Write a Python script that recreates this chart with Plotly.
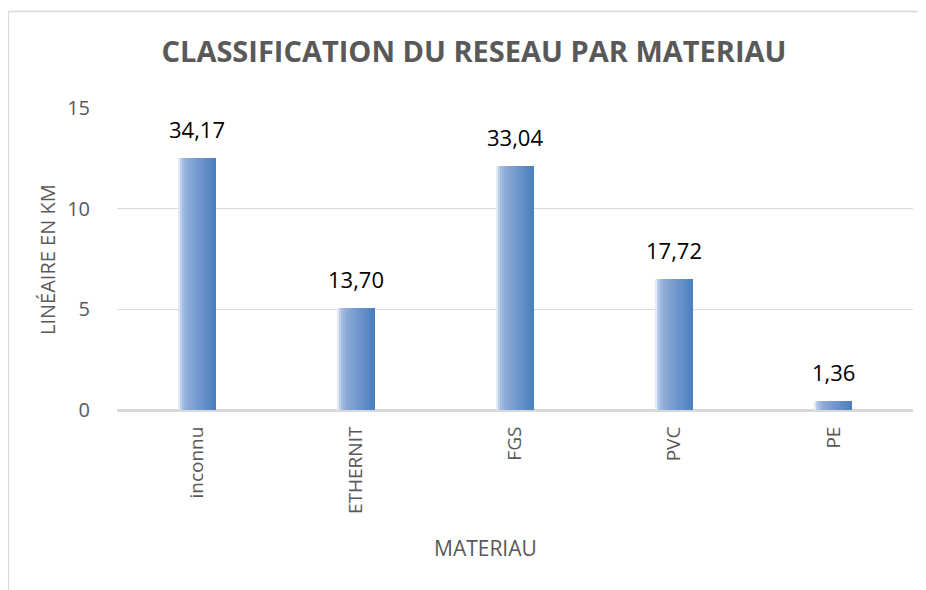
import plotly.graph_objects as go

categories = ["inconnu", "ETHERNIT", "FGS", "PVC", "PE"]
lengths_km = [12.52, 5.07, 12.12, 6.52, 0.46]
label_texts = ["34,17", "13,70", "33,04", "17,72", "1,36"]
y_ticks = [0, 5, 10, 15]

# page body has an 8px default margin, so figure coordinates = reference - 8
W, H = 918, 582
L, R, T, B = 109, 13, 100, 180
bar_w = 0.238
N = 19

stops = [(0.0, (245, 248, 253)), (0.10, (172, 196, 229)), (0.25, (140, 170, 214)), (1.0, (74, 126, 190))]

def col(t):
    for (a, ca), (b, cb) in zip(stops[:-1], stops[1:]):
        if a <= t <= b:
            f = (t - a) / (b - a) if b > a else 0
            c = [round(ca[k] + (cb[k] - ca[k]) * f) for k in range(3)]
            return f"rgb({c[0]},{c[1]},{c[2]})"
    c = stops[-1][1]
    return f"rgb({c[0]},{c[1]},{c[2]})"

fig = go.Figure()
sw = bar_w / N
for i in range(N):
    off = -bar_w / 2 + i * sw
    w = sw * 1.6 if i < N - 1 else sw
    fig.add_trace(go.Bar(
        x=categories, y=lengths_km, width=w, offset=off,
        marker=dict(color=col((i + 0.5) / N), line=dict(width=0)),
        showlegend=False, hoverinfo="skip"))

def px_to_paper_x(px):
    return (px - L) / (W - L - R)

def py_to_paper_y(py):
    return (H - B - py) / (H - T - B)

annotations = []
for c, v, t in zip(categories, lengths_km, label_texts):
    annotations.append(dict(x=c, y=v, xref="x", yref="y", text=t, showarrow=False,
                            yanchor="bottom", yshift=12,
                            font=dict(family="Open Sans", size=22, color="#000000")))

annotations.append(dict(x=px_to_paper_x(477), y=py_to_paper_y(540), xref="paper", yref="paper",
                        text="MATERIAU", showarrow=False, xanchor="center", yanchor="middle",
                        font=dict(family="Open Sans", size=21, color="#595959")))
annotations.append(dict(x=px_to_paper_x(39), y=py_to_paper_y(252), xref="paper", yref="paper",
                        text="LINÉAIRE EN KM", showarrow=False, textangle=-90,
                        xanchor="center", yanchor="middle",
                        font=dict(family="Open Sans", size=20, color="#595959")))

fig.update_layout(
    width=W, height=H,
    margin=dict(l=L, r=R, t=T, b=B, autoexpand=False),
    paper_bgcolor="white", plot_bgcolor="white",
    barmode="overlay",
    bargap=0,
    font=dict(family="Open Sans", color="#595959"),
    title=dict(text="<b>CLASSIFICATION DU RESEAU PAR MATERIAU</b>",
               x=466 / W, xanchor="center", xref="container",
               y=1 - 44 / H, yanchor="middle", yref="container",
               font=dict(family="Open Sans", size=29, color="#595959")),
    xaxis=dict(
        tickangle=-90, tickfont=dict(size=19, color="#595959"),
        showgrid=False, showline=False,
        ticks="outside", ticklen=8, tickcolor="rgba(0,0,0,0)",
    ),
    yaxis=dict(
        range=[0, 15], tickvals=y_ticks, ticktext=[str(v) for v in y_ticks],
        tickfont=dict(size=20, color="#595959"),
        showgrid=True, gridcolor="#D9D9D9", gridwidth=1.3,
        zeroline=True, zerolinecolor="#D9D9D9", zerolinewidth=2.5,
        ticks="outside", ticklen=22, tickcolor="rgba(0,0,0,0)",
    ),
    annotations=annotations,
    shapes=[
        dict(type="line", xref="paper", yref="paper",
             x0=px_to_paper_x(0.5), x1=px_to_paper_x(0.5),
             y0=py_to_paper_y(3), y1=py_to_paper_y(590),
             line=dict(color="#D9D9D9", width=1.3)),
        dict(type="line", xref="paper", yref="paper",
             x0=px_to_paper_x(0.5), x1=px_to_paper_x(930),
             y0=py_to_paper_y(3.5), y1=py_to_paper_y(3.5),
             line=dict(color="#D9D9D9", width=1.3)),
    ],
)

fig.write_html("out.html")
